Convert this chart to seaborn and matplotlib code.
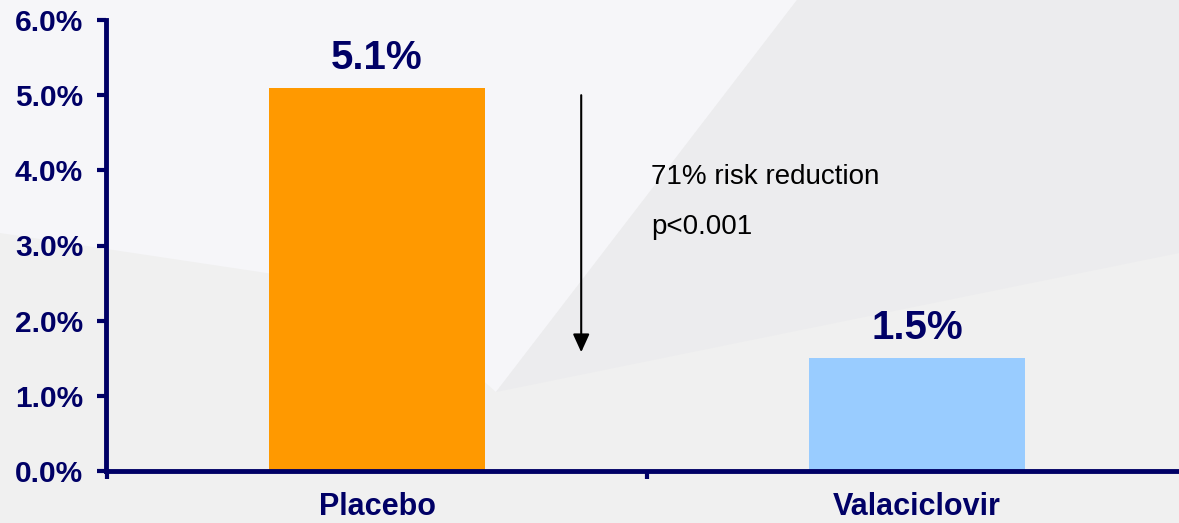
import matplotlib
matplotlib.use('Agg')
import matplotlib.pyplot as plt
from matplotlib.patches import Polygon
from matplotlib.ticker import FixedLocator
import seaborn as sns
import pandas as pd

categories = ['Placebo', 'Valaciclovir']
values = [5.1, 1.5]
value_labels = ['5.1%', '1.5%']
bar_colors = ['#FF9900', '#99CCFF']
y_ticks = [0, 1, 2, 3, 4, 5, 6]
y_tick_labels = ['0.0%', '1.0%', '2.0%', '3.0%', '4.0%', '5.0%', '6.0%']
note_lines = ['71% risk reduction', 'p<0.001']

navy = '#000066'

sns.set_style('white')
plt.rcParams['font.family'] = ['Liberation Sans', 'DejaVu Sans']

W, H = 1179, 523
fig = plt.figure(figsize=(W / 100, H / 100), dpi=100, facecolor='#F0F0F0')


def px(points):
    return [(x / W, 1 - y / H) for x, y in points]


# slide background shapes
fig.add_artist(Polygon(px([(0, 0), (797, 0), (496, 392), (380, 290), (0, 233)]),
                       closed=True, transform=fig.transFigure,
                       facecolor='#F6F6F9', edgecolor='none', zorder=-10))
fig.add_artist(Polygon(px([(797, 0), (1179, 0), (1179, 253), (496, 392)]),
                       closed=True, transform=fig.transFigure,
                       facecolor='#ECECEE', edgecolor='none', zorder=-10))

ax = fig.add_axes([106 / W, 52 / H, 1073 / W, 451 / H])
ax.patch.set_alpha(0)

df = pd.DataFrame({'group': categories, 'rate': values})
sns.barplot(data=df, x='group', y='rate', hue='group', palette=bar_colors,
            width=0.4, saturation=1, legend=False, linewidth=0, ax=ax, zorder=2)

for container, lab in zip(ax.containers, value_labels):
    ax.bar_label(container, labels=[lab], padding=8, fontsize=29,
                 fontweight='bold', color=navy)

ax.set_xlim(-0.502, 1.485)
ax.set_ylim(0, 6)
ax.set_yticks(y_ticks)
ax.set_yticklabels(y_tick_labels)
ax.set_xlabel('')
ax.set_ylabel('')

for side in ['top', 'right']:
    ax.spines[side].set_visible(False)
for side in ['left', 'bottom']:
    ax.spines[side].set_color(navy)
    ax.spines[side].set_linewidth(3.5)
    ax.spines[side].set_zorder(3)

ax.xaxis.set_minor_locator(FixedLocator([-0.5, 0.5, 1.5]))
ax.tick_params(axis='x', which='major', length=0, pad=15, labelsize=22,
               labelcolor=navy)
ax.tick_params(axis='x', which='minor', direction='out', length=6, width=3,
               color=navy, bottom=True)
ax.tick_params(axis='y', direction='out', length=6.5, width=3, color=navy,
               pad=10, labelsize=21.5, labelcolor=navy, left=True)
for lab in ax.get_xticklabels() + ax.get_yticklabels():
    lab.set_fontweight('bold')

ax.annotate('', xy=(0.378, 1.58), xytext=(0.378, 5.0),
            arrowprops=dict(arrowstyle='-|>,head_length=0.55,head_width=0.25',
                            color='black', lw=1.5, mutation_scale=20,
                            shrinkA=0, shrinkB=0))
ax.text(0.507, 3.816, note_lines[0], fontsize=20, color='black', va='baseline')
ax.text(0.507, 3.15, note_lines[1], fontsize=20, color='black', va='baseline')

fig.savefig('out.png', dpi=100, facecolor=fig.get_facecolor())
plt.close(fig)
